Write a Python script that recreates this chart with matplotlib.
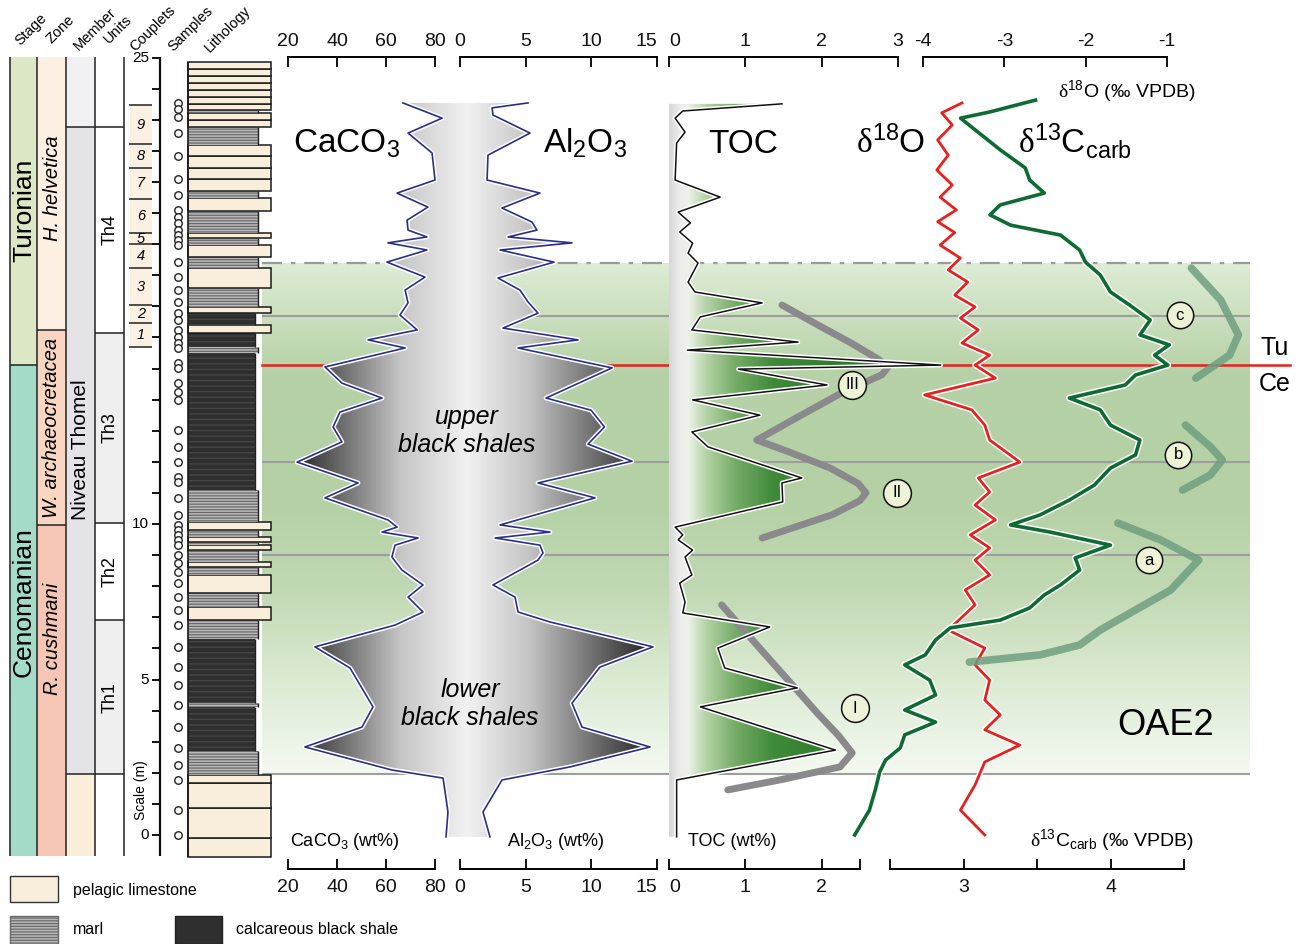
import numpy as np
import matplotlib
matplotlib.use("Agg")
import matplotlib.pyplot as plt
import matplotlib.patheffects as pe
from matplotlib.patches import Rectangle, Polygon
from matplotlib.colors import LinearSegmentedColormap

plt.rcParams["font.family"] = ["Liberation Sans", "DejaVu Sans"]
plt.rcParams["mathtext.fontset"] = "custom"
plt.rcParams["mathtext.rm"] = "Liberation Sans"
plt.rcParams["mathtext.it"] = "Liberation Sans:italic"
plt.rcParams["mathtext.sf"] = "Liberation Serif"
plt.rcParams["hatch.linewidth"] = 0.9

# ---------------- data (depth in m above base of section) ----------------
CACO3_DEPTH = [23.54, 23.05, 22.57, 21.93, 21.06, 20.64, 20.19, 19.77, 19.45, 19.23, 19.04, 18.81,
               18.42, 17.94, 17.52, 17.11, 16.72, 16.24, 15.92, 15.66, 15.05, 14.53, 14.05, 13.60,
               13.12, 12.64, 11.99, 11.32, 10.84, 10.13, 9.90, 9.74, 9.55, 9.32, 8.94, 8.52, 8.04,
               7.65, 7.17, 6.75, 6.05, 5.37, 4.12, 3.47, 2.83, 2.09, 1.83, 0.74, -0.06]
CACO3 = [66.9, 82.9, 69.0, 78.8, 80.0, 64.5, 77.1, 68.6, 69.0, 76.7, 60.8, 76.7, 60.4, 75.9, 67.8,
         69.0, 65.7, 72.7, 52.7, 67.8, 35.1, 42.0, 58.4, 41.2, 38.4, 42.0, 23.7, 48.6, 35.1, 60.8,
         64.5, 58.4, 73.1, 63.7, 62.4, 66.5, 75.1, 69.0, 75.1, 63.7, 31.0, 45.3, 54.7, 50.2, 26.9,
         62.4, 83.3, 85.3, 84.5]

AL2O3_DEPTH = [23.54, 23.38, 23.15, 22.57, 21.86, 21.06, 20.64, 20.16, 19.71, 19.45, 19.23, 19.04,
               18.81, 18.42, 17.91, 17.52, 17.14, 16.78, 16.30, 15.92, 15.66, 15.02, 14.05, 13.66,
               13.12, 12.57, 12.02, 11.32, 10.84, 9.97, 9.74, 9.55, 9.32, 9.07, 8.84, 8.04, 7.65,
               7.17, 6.85, 6.05, 5.40, 4.24, 3.47, 2.83, 2.19, 1.77, 0.74, -0.06]
AL2O3 = [5.18, 2.44, 2.51, 5.33, 2.13, 2.06, 6.09, 3.20, 5.48, 5.86, 3.66, 8.53, 3.05, 7.16, 2.89,
         4.57, 5.18, 5.94, 3.27, 8.99, 4.42, 11.58, 6.55, 9.98, 11.0, 9.75, 13.10, 5.94, 10.28,
         3.05, 6.85, 2.67, 6.09, 6.32, 5.94, 2.51, 4.19, 4.42, 6.85, 14.70, 10.66, 8.53, 9.29,
         14.47, 8.38, 3.20, 1.75, 2.28]

TOC_DEPTH = [23.51, 23.28, 23.05, 22.60, 22.25, 21.06, 20.51, 20.03, 19.68, 19.39, 19.03, 18.71,
             18.39, 17.78, 17.46, 17.11, 16.66, 16.24, 15.85, 15.59, 15.11, 14.98, 14.47, 13.99,
             13.50, 12.96, 12.48, 11.48, 11.32, 10.71, 9.90, 9.65, 9.49, 9.16, 8.94, 8.36, 8.10,
             7.49, 7.14, 6.69, 6.01, 5.37, 4.73, 4.12, 2.73, 1.77, -0.06]
TOC = [1.48, 0.18, 0.08, 0.21, 0.10, 0.08, 0.67, 0.12, 0.28, 0.14, 0.31, 0.25, 0.38, 0.25, 0.34,
       1.22, 0.41, 0.30, 1.69, 0.24, 3.56, 0.91, 2.07, 0.31, 1.19, 0.30, 0.51, 1.74, 1.48, 1.49,
       0.08, 0.18, 0.12, 0.31, 0.21, 0.30, 0.14, 0.21, 0.18, 1.32, 0.64, 0.73, 1.68, 0.41, 2.18,
       0.10, 0.10]

# schematic TOC trends (grey)
TREND_UP_DEPTH = [17.04, 16.40, 15.80, 15.30, 15.05, 14.80, 14.20, 13.40, 12.70, 12.30, 11.80,
                  11.30, 11.00, 10.75, 10.30, 9.55]
TREND_UP_TOC = [1.48, 1.95, 2.40, 2.74, 2.87, 2.79, 2.25, 1.66, 1.15, 1.59, 2.11, 2.48, 2.58,
                2.50, 2.14, 1.22]
TREND_LOW_DEPTH = [7.40, 6.00, 4.98, 3.90, 3.20, 2.64, 2.19, 1.77, 1.45]
TREND_LOW_TOC = [0.69, 1.19, 1.56, 1.95, 2.22, 2.40, 2.24, 1.45, 0.77]
TOC_MARKS = ["III", "II", "I"]
TOC_MARK_DEPTH = [14.47, 11.0, 4.08]
TOC_MARK_X = [2.40, 2.99, 2.44]

D18O_DEPTH = [23.54, 23.22, 22.83, 22.35, 21.86, 21.38, 20.90, 20.51, 20.10, 19.72, 19.37, 18.97,
              18.55, 18.17, 17.78, 17.36, 16.98, 16.62, 16.24, 15.82, 15.43, 15.11, 14.69, 14.15,
              13.67, 13.18, 12.70, 11.99, 11.48, 11.03, 10.61, 10.13, 9.65, 9.23, 8.84, 8.36, 7.88,
              7.40, 6.59, 6.01, 5.47, 4.98, 4.34, 3.86, 3.38, 2.89, 2.35, 1.61, 0.80, 0.0]
D18O = [-3.52, -3.77, -3.64, -3.82, -3.69, -3.83, -3.64, -3.79, -3.59, -3.82, -3.61, -3.79, -3.54,
        -3.69, -3.45, -3.61, -3.36, -3.54, -3.32, -3.52, -3.18, -3.36, -3.11, -3.98, -3.40, -3.24,
        -3.18, -2.81, -3.32, -3.18, -3.36, -3.11, -3.42, -3.18, -3.36, -3.18, -3.48, -3.36, -3.69,
        -3.24, -3.36, -3.18, -3.24, -3.05, -3.24, -2.81, -3.24, -3.36, -3.54, -3.24]

D13C_DEPTH = [23.63, 23.25, 23.05, 22.67, 22.03, 21.45, 21.06, 20.64, 20.26, 19.94, 19.61, 19.29,
              18.81, 18.42, 18.01, 17.46, 17.04, 16.56, 16.08, 15.76, 15.43, 15.11, 14.79, 14.47,
              14.05, 13.67, 13.18, 12.70, 12.22, 11.80, 11.25, 10.77, 10.29, 9.97, 9.74, 9.32, 8.91,
              8.52, 8.04, 7.72, 7.30, 6.91, 6.66, 6.27, 5.79, 5.47, 4.98, 4.50, 4.02, 3.63, 3.22,
              2.80, 2.41, 2.03, 1.45, 0.80, 0.0]
D13C = [3.49, 3.18, 2.98, 3.08, 3.25, 3.42, 3.45, 3.55, 3.25, 3.18, 3.32, 3.66, 3.79, 3.83, 3.93,
        4.00, 4.13, 4.27, 4.20, 4.40, 4.30, 4.39, 4.17, 4.10, 3.72, 3.93, 4.00, 4.20, 4.17, 4.00,
        3.89, 3.72, 3.52, 3.32, 3.59, 4.00, 3.76, 3.79, 3.66, 3.55, 3.45, 3.25, 2.91, 2.81, 2.74,
        2.60, 2.77, 2.81, 2.60, 2.81, 2.60, 2.57, 2.47, 2.43, 2.40, 2.36, 2.26]

# schematic d13C trends (a, b, c)
TREND_C_DEPTH = [18.23, 17.20, 16.08, 15.43, 14.69]
TREND_C = [4.55, 4.75, 4.87, 4.81, 4.58]
TREND_B_DEPTH = [13.18, 12.48, 12.06, 11.58, 11.09]
TREND_B = [4.51, 4.68, 4.76, 4.68, 4.49]
TREND_A_DEPTH = [10.03, 9.49, 8.84, 7.88, 6.59, 6.11, 5.79, 5.56]
TREND_A = [4.05, 4.34, 4.60, 4.41, 3.93, 3.79, 3.52, 3.04]
C_MARKS = ["a", "b", "c"]
C_MARK_DEPTH = [8.84, 12.22, 16.72]
C_MARK_X = [4.26, 4.46, 4.47]

# event lines
OAE_BASE, OAE_TOP = 1.96, 18.39
EVENT_LINES = [16.69, 11.99, 9.00, 1.96]
TU_CE = 15.11

# stratigraphic columns
STAGES = ["Turonian", "Cenomanian"]
STAGE_TOP = [25.08, 15.11]
STAGE_BASE = [15.11, -0.68]
STAGE_LABEL_AT = [20.1, 7.5]
ZONES = ["H. helvetica", "W. archaeocretacea", "R. cushmani"]
ZONE_TOP = [25.08, 16.24, 9.97]
ZONE_BASE = [16.24, 9.97, -0.68]
ZONE_LABEL_AT = [20.8, 13.1, 6.3]
MEMBERS = ["", "Niveau Thomel", ""]
MEMBER_TOP = [25.08, 22.77, 1.96]
MEMBER_BASE = [22.77, 1.96, -0.68]
MEMBER_LABEL_AT = [0, 12.4, 0]
UNITS = ["", "Th4", "Th3", "Th2", "Th1", ""]
UNIT_TOP = [25.08, 22.77, 16.14, 10.03, 6.91, 1.96]
UNIT_BASE = [22.77, 16.14, 10.03, 6.91, 1.96, -0.68]
COUPLET_BOUNDS = [23.47, 22.22, 21.45, 20.45, 19.36, 19.00, 18.23, 17.04, 16.46, 15.69]
COUPLETS = ["9", "8", "7", "6", "5", "4", "3", "2", "1"]
SCALE_LABELS = [0, 5, 10, 25]
SAMPLES = [23.54, 23.34, 23.09, 22.57, 21.83, 21.09, 20.58, 20.10, 19.87, 19.68, 19.45, 19.29,
           19.13, 18.97, 18.42, 17.94, 17.52, 17.14, 16.78, 16.56, 16.24, 16.01, 15.82, 15.66,
           15.18, 15.02, 14.53, 14.24, 13.99, 13.02, 12.48, 11.99, 11.51, 11.35, 10.84, 10.29,
           9.97, 9.81, 9.65, 9.49, 9.32, 9.00, 8.75, 8.46, 8.10, 7.65, 7.23, 6.75, 6.05, 5.40,
           4.82, 4.18, 3.47, 2.80, 2.25, 1.77, 0.80, 0.0]

# lithology beds: L = pelagic limestone, M = marl, S = calcareous black shale
LITH_BASE = [-0.72, -0.10, 0.87, 1.67, 1.93, 2.70, 4.12, 4.25, 6.30, 6.91, 7.33, 7.78, 8.36, 8.62,
             8.78, 9.16, 9.32, 9.42, 9.58, 9.81, 10.06, 11.09, 15.50, 15.69, 16.14, 16.40, 16.80,
             16.98, 17.59, 18.23, 18.59, 18.97, 19.20, 19.36, 20.05, 20.48, 20.70, 21.10, 21.45,
             21.82, 22.19, 22.77, 22.98, 23.20, 23.30, 23.52, 23.74, 23.96, 24.18, 24.40, 24.62]
LITH_TOP = [-0.10, 0.87, 1.67, 1.93, 2.70, 4.12, 4.25, 6.30, 6.91, 7.33, 7.78, 8.36, 8.62, 8.78,
            9.16, 9.32, 9.42, 9.58, 9.81, 10.06, 11.09, 15.50, 15.69, 16.14, 16.40, 16.80, 16.98,
            17.59, 18.23, 18.59, 18.97, 19.20, 19.36, 20.05, 20.48, 20.70, 21.10, 21.45, 21.82,
            22.19, 22.77, 22.98, 23.20, 23.30, 23.52, 23.74, 23.96, 24.18, 24.40, 24.62, 24.86]
LITH_TYPE = ["L", "L", "L", "L", "M", "S", "M", "S", "M", "L", "M", "L", "M", "L", "M", "L", "M",
             "L", "M", "L", "M", "S", "M", "S", "L", "S", "L", "M", "L", "M", "L", "M", "L", "M",
             "L", "M", "L", "L", "L", "L", "M", "L", "L", "M", "L", "L", "L", "L", "L", "L", "L"]

# ---------------- layout ----------------
W, H = 1301, 944
Y0, PXM = 835, 31.1          # 0 m at y=835 px, 31.1 px per metre
Y_TOP, Y_BOT = 57, 869
DEPTH_TOP = (Y0 - Y_TOP) / PXM
DEPTH_BOT = (Y0 - Y_BOT) / PXM

fig = plt.figure(figsize=(W / 100, H / 100), dpi=100)


def rect(x0, x1, y0, y1):
    return [x0 / W, 1 - y1 / H, (x1 - x0) / W, (y1 - y0) / H]


def lin_xlim(px_lo, px_hi, px_a, px_b, va, vb):
    k = (vb - va) / (px_b - px_a)
    return va + (px_lo - px_a) * k, va + (px_hi - px_a) * k


def depth_axes(x0, x1, xlim, z):
    ax = fig.add_axes(rect(x0, x1, Y_TOP, Y_BOT))
    ax.set_xlim(*xlim)
    ax.set_ylim(DEPTH_BOT, DEPTH_TOP)
    ax.set_axis_off()
    ax.set_zorder(z)
    return ax


def bracket(px_a, px_b, va, vb, ticks, labels, side):
    y0, y1 = (Y_TOP, Y_TOP + 30) if side == "top" else (Y_BOT - 30, Y_BOT)
    ax = fig.add_axes(rect(px_a, px_b, y0, y1))
    ax.set_xlim(va, vb)
    ax.patch.set_visible(False)
    for s in ax.spines:
        ax.spines[s].set_visible(s == side)
    ax.spines[side].set_linewidth(1.4)
    ax.set_yticks([])
    ax.xaxis.set_ticks_position(side)
    ax.set_xticks(ticks, labels)
    ax.tick_params(axis="x", direction="in", length=7, width=1.4, labelsize=14,
                   pad=5 if side == "top" else 7, colors="#111")
    ax.set_zorder(6)
    return ax


def ftext(x, y, s, **kw):
    kw.setdefault("zorder", 20)
    return fig.text(x / W, 1 - y / H, s, **kw)


halo = lambda lw: [pe.Stroke(linewidth=lw + 2.2, foreground="white"), pe.Normal()]

# ---------------- OAE2 background band and event lines ----------------
ax_bg = depth_axes(262, 1250, (0, 1), z=1)
band_cmap = LinearSegmentedColormap.from_list(
    "band", [(0, "#f4f9f1"), (0.18, "#dcebd3"), (0.37, "#c0d8b2"), (0.55, "#b4d0a4"),
             (0.79, "#b7d2a8"), (0.91, "#cde1c1"), (1, "#deecd6")])
ax_bg.imshow(np.linspace(0, 1, 256)[:, None], cmap=band_cmap, origin="lower", aspect="auto",
             extent=(0, 1, OAE_BASE, OAE_TOP), zorder=0)
ax_bg.set_xlim(0, 1)
ax_bg.set_ylim(DEPTH_BOT, DEPTH_TOP)
ax_bg.axhline(OAE_TOP, color="#9b9b9b", lw=1.6, ls=(0, (9, 4, 2, 4)))
for d in EVENT_LINES:
    ax_bg.axhline(d, color="#9e9e9e", lw=1.5)
ax_bg.axhline(TU_CE, xmin=0, xmax=1.04, color="#e8211f", lw=1.8, clip_on=False)

# ---------------- stratigraphic columns ----------------
ax_l = depth_axes(0, 280, (0, 280), z=3)
stage_colors = ["#dce8c5", "#a3dac8"]
for name, top, base, c, at in zip(STAGES, STAGE_TOP, STAGE_BASE, stage_colors, STAGE_LABEL_AT):
    ax_l.add_patch(Rectangle((10, base), 27, top - base, fc=c, lw=0))
    ax_l.text(24, at, name, rotation=90, ha="center", va="center", fontsize=19)
zone_colors = ["#fdf0e2", "#f8d6c2", "#f5c6b4"]
for name, top, base, c, at in zip(ZONES, ZONE_TOP, ZONE_BASE, zone_colors, ZONE_LABEL_AT):
    ax_l.add_patch(Rectangle((37, base), 29, top - base, fc=c, lw=0))
    ax_l.text(52, at, name, rotation=90, ha="center", va="center", fontsize=14.5, style="italic")
member_colors = ["#f1f1f3", "#e4e4e6", "#faefdb"]
for name, top, base, c, at in zip(MEMBERS, MEMBER_TOP, MEMBER_BASE, member_colors, MEMBER_LABEL_AT):
    ax_l.add_patch(Rectangle((66, base), 29, top - base, fc=c, lw=0))
    if name:
        ax_l.text(81, at, name, rotation=90, ha="center", va="center", fontsize=15)
unit_colors = ["white", "white", "#efefef", "white", "#efefef", "white"]
for name, top, base, c in zip(UNITS, UNIT_TOP, UNIT_BASE, unit_colors):
    ax_l.add_patch(Rectangle((95, base), 29, top - base, fc=c, lw=0))
    if name:
        ax_l.text(110, (top + base) / 2, name, rotation=90, ha="center", va="center", fontsize=13)
ax_l.vlines([10, 37, 66, 95, 124], -0.68, 25.08, color="#222", lw=1.1)
ax_l.hlines(STAGE_BASE[:-1], 10, 37, color="#222", lw=1.1)
ax_l.hlines(ZONE_BASE[:-1], 37, 66, color="#222", lw=1.1)
ax_l.hlines(MEMBER_BASE[:-1], 66, 95, color="#222", lw=1.1)
ax_l.hlines(UNIT_BASE[:-1], 95, 124, color="#222", lw=1.1)

# couplets
ax_l.add_patch(Rectangle((130, COUPLET_BOUNDS[-1]), 22, COUPLET_BOUNDS[0] - COUPLET_BOUNDS[-1],
                         fc="#fbf1e3", lw=0))
ax_l.hlines(COUPLET_BOUNDS, 129, 152, color="#222", lw=1.1)
for lab, a, b in zip(COUPLETS, COUPLET_BOUNDS[:-1], COUPLET_BOUNDS[1:]):
    ax_l.text(141, (a + b) / 2, lab, ha="center", va="center", fontsize=10.5, style="italic")

# metre scale
ax_l.vlines(160, -0.68, 25.08, color="#111", lw=1.6)
ax_l.hlines(np.arange(0, 26), 152, 160, color="#111", lw=1.4)
for v in SCALE_LABELS:
    ax_l.text(149, v, str(v), ha="right", va="center", fontsize=11)
ax_l.text(141, 1.45, "Scale (m)", rotation=90, ha="center", va="center", fontsize=10)

# samples
ax_l.plot(np.full(len(SAMPLES), 177.5), SAMPLES, "o", ms=5.4, mfc="white", mec="#222", mew=1)

# lithology
for base, top, kind in zip(LITH_BASE, LITH_TOP, LITH_TYPE):
    if kind == "L":
        ax_l.add_patch(Rectangle((188, base), 83, top - base, fc="#f8eedb", ec="#1a1a1a", lw=1.1))
    elif kind == "M":
        ax_l.add_patch(Rectangle((188, base), 70, top - base, fc="#b9b9b9", ec="#6a6a6a",
                                 hatch="------", lw=0))
        ax_l.vlines(258, base, top, color="#222", lw=1)
    else:
        ax_l.add_patch(Rectangle((188, base), 67, top - base, fc="#2f2f2f", ec="#474747",
                                 hatch="---", lw=0))
        ax_l.vlines(255, base, top, color="#222", lw=1)
ax_l.vlines(188, LITH_BASE[0], LITH_TOP[-1], color="#1a1a1a", lw=1.2)

# ---------------- CaCO3 / Al2O3 panel ----------------
ax_ca = depth_axes(288, 435, (20, 80), z=4)
ax_al = depth_axes(460, 657, (0, 15), z=4)
ax_fill = depth_axes(280, 670, (0, 1), z=2)
p_ca = ax_ca.transData.transform(np.column_stack([CACO3, CACO3_DEPTH]))
p_al = ax_al.transData.transform(np.column_stack([AL2O3, AL2O3_DEPTH]))[::-1]
pts = ax_fill.transData.inverted().transform(np.vstack([p_ca, p_al]))
poly = Polygon(pts, closed=True, fc="none", ec="none")
ax_fill.add_patch(poly)
grey_cmap = LinearSegmentedColormap.from_list(
    "gr", [(0, "#1e1e1e"), (0.05, "#2e2e2e"), (0.17, "#747474"), (0.31, "#c6c6c6"),
           (0.48, "#f2f2f2"), (0.64, "#c4c4c4"), (0.8, "#727272"), (0.93, "#303030"), (1, "#1e1e1e")])
im = ax_fill.imshow(np.linspace(0, 1, 512)[None, :], cmap=grey_cmap, aspect="auto",
                    extent=(0, 1, DEPTH_BOT, DEPTH_TOP))
im.set_clip_path(poly)
ax_fill.set_xlim(0, 1)
ax_fill.set_ylim(DEPTH_BOT, DEPTH_TOP)
ax_ca.plot(CACO3, CACO3_DEPTH, color="#2b2d8e", lw=1.2, clip_on=False, path_effects=halo(1.2))
ax_al.plot(AL2O3, AL2O3_DEPTH, color="#2b2d8e", lw=1.2, clip_on=False, path_effects=halo(1.2))

# ---------------- TOC panel ----------------
ax_toc = depth_axes(669, 960, lin_xlim(669, 960, 669, 898, 0, 3), z=4)
x0, x1 = ax_toc.get_xlim()
toc_pts = [(0, TOC_DEPTH[0])] + list(zip(TOC, TOC_DEPTH)) + [(0, TOC_DEPTH[-1])]
toc_poly = Polygon(toc_pts, closed=True, fc="none", ec="none")
ax_toc.add_patch(toc_poly)
green_cmap = LinearSegmentedColormap.from_list(
    "gn", [(0, "#d8d8d8"), (0.035, "#ececec"), (0.065, "#edf2e9"), (0.13, "#b2d1a4"),
           (0.23, "#74ab66"), (0.36, "#3f8a39"), (0.6, "#2e7a2b"), (1, "#2a6f28")])
im2 = ax_toc.imshow(np.linspace(0, 1, 512)[None, :], cmap=green_cmap, aspect="auto",
                    extent=(x0, x1, DEPTH_BOT, DEPTH_TOP))
im2.set_clip_path(toc_poly)
ax_toc.set_xlim(x0, x1)
ax_toc.set_ylim(DEPTH_BOT, DEPTH_TOP)
for tx, td in [(TREND_UP_TOC, TREND_UP_DEPTH), (TREND_LOW_TOC, TREND_LOW_DEPTH)]:
    ax_toc.plot(tx, td, color="#8a8a8c", lw=5, solid_capstyle="round", solid_joinstyle="round")
ax_toc.plot(TOC, TOC_DEPTH, color="#111", lw=1.1, clip_on=False, path_effects=halo(1.1))
for lab, d, x in zip(TOC_MARKS, TOC_MARK_DEPTH, TOC_MARK_X):
    ax_toc.plot(x, d, "o", ms=20, mfc="#eef3d8", mec="#111", mew=1.1, clip_on=False)
    ax_toc.text(x, d, lab, ha="center", va="center", fontsize=12)

# ---------------- isotope panel ----------------
ax_o = depth_axes(880, 1260, lin_xlim(880, 1260, 923, 1167, -4, -1), z=4)
ax_c = depth_axes(880, 1260, lin_xlim(880, 1260, 890, 1184, 2.5, 4.5), z=5)
for tx, td in [(TREND_A, TREND_A_DEPTH), (TREND_B, TREND_B_DEPTH), (TREND_C, TREND_C_DEPTH)]:
    ax_c.plot(tx, td, color="#6f9f80", lw=5.5, alpha=0.85, solid_capstyle="round",
              solid_joinstyle="round", clip_on=False)
ax_o.plot(D18O, D18O_DEPTH, color="#e8211f", lw=2, clip_on=False, path_effects=halo(2))
ax_c.plot(D13C, D13C_DEPTH, color="#0e6b34", lw=2.6, clip_on=False, path_effects=halo(2.6))
for lab, d, x in zip(C_MARKS, C_MARK_DEPTH, C_MARK_X):
    ax_c.plot(x, d, "o", ms=19, mfc="#eef3d8", mec="#111", mew=1.1, clip_on=False)
    ax_c.text(x, d, lab, ha="center", va="center", fontsize=12)

# ---------------- scale brackets ----------------
bracket(288, 435, 20, 80, [20, 40, 60, 80], ["20", "40", "60", "80"], "top")
bracket(288, 435, 20, 80, [20, 40, 60, 80], ["20", "40", "60", "80"], "bottom")
for side in ["top", "bottom"]:
    b = bracket(460, 657, 0, 15, [0, 5, 10, 15], ["0", "5", "10", "15"], side)
    b.get_xticklabels()[-1].set_ha("right")
bt = bracket(669, 898, 0, 3, [0, 1, 2, 3], ["0", "1", "2", "3"], "top")
bt.get_xticklabels()[0].set_ha("left")
bb = bracket(669, 860, 0, 2.5, [0, 1, 2, 2.5], ["0", "1", "2", ""], "bottom")
bb.get_xticklabels()[0].set_ha("left")
bracket(923, 1167, -4, -1, [-4, -3, -2, -1], ["-4", "-3", "-2", "-1"], "top")
bracket(890, 1184, 2.5, 4.5, [2.5, 3, 3.5, 4, 4.5], ["", "3", "", "4", ""], "bottom")

# ---------------- texts ----------------
CA = r"$\mathregular{CaCO_3}$"
AL = r"$\mathregular{Al_2O_3}$"
D18 = r"$\mathsf{\delta}^{\mathregular{18}}\mathregular{O}$"
D13 = r"$\mathsf{\delta}^{\mathregular{13}}\mathregular{C_{carb}}$"
ftext(293, 153, CA, fontsize=24, va="baseline")
ftext(543, 153, AL, fontsize=24, va="baseline")
ftext(708, 153, "TOC", fontsize=24, va="baseline")
ftext(856, 153, D18, fontsize=24, va="baseline")
ftext(1018, 153, D13, fontsize=24, va="baseline")
ftext(467, 431, "upper\nblack shales", fontsize=18, style="italic", ha="center", va="center",
      linespacing=1.2)
ftext(470, 704, "lower\nblack shales", fontsize=18, style="italic", ha="center", va="center",
      linespacing=1.2)
ftext(1166, 735, "OAE2", fontsize=26, ha="center", va="baseline")
ftext(1275, 348, "Tu", fontsize=18, ha="center", va="center")
ftext(1275, 384, "Ce", fontsize=18, ha="center", va="center")
ftext(290, 846, CA + " (wt%)", fontsize=13, va="baseline")
ftext(507, 846, AL + " (wt%)", fontsize=13, va="baseline")
ftext(688, 846, "TOC (wt%)", fontsize=13, va="baseline")
ftext(1030, 846, D13 + " (‰ VPDB)", fontsize=14, va="baseline")
ftext(1058, 97, D18 + " (‰ VPDB)", fontsize=14, va="baseline")

for lab, x in zip(["Stage", "Zone", "Member", "Units", "Couplets", "Samples", "Lithology"],
                  [31, 60, 95, 118, 153, 191, 228]):
    ftext(x, 29, lab, fontsize=10.5, rotation=45, ha="center", va="center")

# ---------------- legend ----------------
ax_g = fig.add_axes([0, 0, 1, 1])
ax_g.set_xlim(0, W)
ax_g.set_ylim(H, 0)
ax_g.set_axis_off()
ax_g.set_zorder(0.5)
ax_g.add_patch(Rectangle((10, 876), 48, 26, fc="#f8eedb", ec="#333", lw=1))
ax_g.add_patch(Rectangle((10, 916), 48, 28, fc="#b9b9b9", ec="#6a6a6a", hatch="------", lw=1))
ax_g.add_patch(Rectangle((175, 916), 47, 28, fc="#2f2f2f", ec="#222", lw=1))
ftext(73, 890, "pelagic limestone", fontsize=11.5, va="center")
ftext(73, 929, "marl", fontsize=11.5, va="center")
ftext(236, 929, "calcareous black shale", fontsize=11.5, va="center")

fig.savefig("out.png", dpi=100)
